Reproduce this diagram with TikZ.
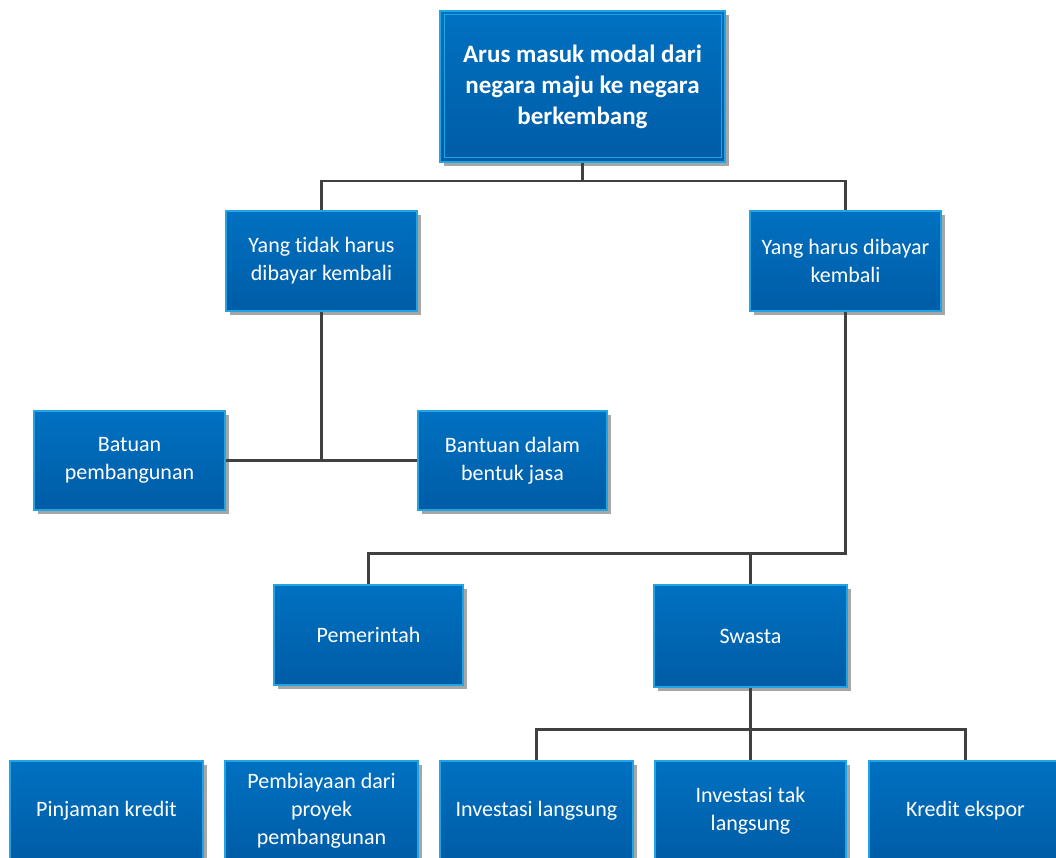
\documentclass[tikz,border=0pt]{standalone}
\usepackage{fontspec}
\setmainfont{Carlito}[Ligatures=NoCommon]
\usetikzlibrary{calc}
\usetikzlibrary{shadows}

\definecolor{boxtop}{HTML}{0071C1}
\definecolor{boxbot}{HTML}{005CA6}
\definecolor{boxline}{HTML}{1FA5E6}
\definecolor{linkgray}{HTML}{404040}

\tikzset{
  box/.style={draw=boxline, line width=1.2pt, top color=boxtop, bottom color=boxbot,
    text=white, align=center, inner sep=2pt,
    minimum width=191pt, minimum height=100pt,
    font=\fontsize{22}{28}\selectfont,
    drop shadow={shadow xshift=4pt, shadow yshift=-4pt, fill=black!35, opacity=1}},
  link/.style={draw=linkgray, line width=2.6pt},
}

\begin{document}
\begin{tikzpicture}[x=1pt, y=-1pt]
        \useasboundingbox (0,0) rectangle (1056,858);

        % Top
        \node[box, minimum width=285pt, minimum height=151pt, line width=2pt,
              font=\fontsize{25}{31}\selectfont\bfseries] (arus) at (582.5,86.5)
              {Arus masuk modal dari\\negara maju ke negara\\berkembang};
        \draw[boxline, line width=1pt] ($(arus.north west)+(5,5)$) rectangle ($(arus.south east)+(-5,-5)$);

        % Second level
        \node[box] (tidak) at (321.5,261) {Yang tidak harus\\dibayar kembali};
        \node[box] (harus) at (845.5,261) {Yang harus dibayar\\kembali};

        % Grants
        \node[box, minimum height=99pt] (batuan) at (129.5,460.5) {Batuan\\pembangunan};
        \node[box, minimum width=189pt, minimum height=99pt] (bantuan) at (512.5,460.5) {Bantuan dalam\\bentuk jasa};

        % Loans
        \node[box, minimum width=189pt] (pemerintah) at (368.5,635) {Pemerintah};
        \node[box, minimum width=193pt, minimum height=102pt] (swasta) at (750.5,636) {Swasta};

        % Bottom row
        \node[box, minimum width=193pt] (pinjaman) at (106.5,811) {Pinjaman kredit};
        \node[box, minimum width=193pt] (proyek) at (321.5,811) {Pembiayaan dari\\proyek\\pembangunan};
        \node[box, minimum width=193pt] (langsung) at (536.5,811) {Investasi langsung};
        \node[box] (taklangsung) at (750.5,811) {Investasi tak\\langsung};
        \node[box, minimum width=193pt] (ekspor) at (965.5,811) {Kredit ekspor};

        % Connectors
        \draw[link] (arus.south) -- ++(0,18) -| (tidak.north);
        \draw[link] (arus.south) -- ++(0,18) -| (harus.north);

        \draw[link] (batuan.east) -- (bantuan.west);
        \draw[link] (tidak.south) -- (tidak.south |- batuan.east);

        \draw[link] (harus.south) |- ($(pemerintah.north)+(0,-31)$) -- (pemerintah.north);
        \draw[link] (swasta.north) -- ++(0,-32);

        \draw[link] (swasta.south) -- ++(0,42) -| (langsung.north);
        \draw[link] (swasta.south) -- ++(0,42) -| (ekspor.north);
        \draw[link] (swasta.south) -- (taklangsung.north);
\end{tikzpicture}
\end{document}
